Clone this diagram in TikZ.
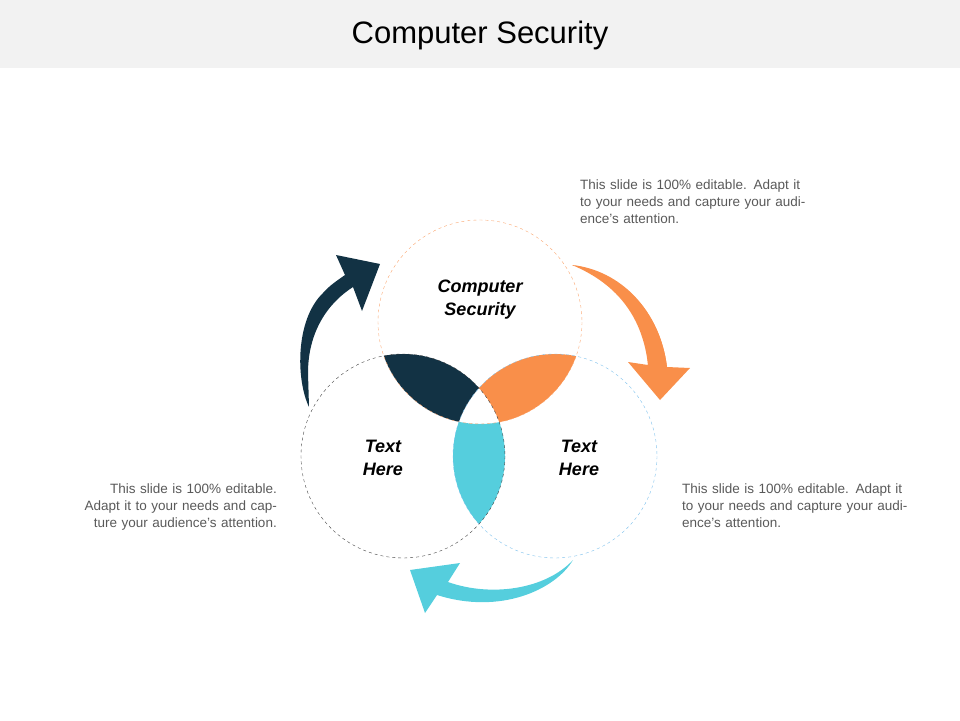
\documentclass[tikz,border=0pt]{standalone}
\usepackage{fontspec}
\setmainfont{Liberation Sans}
\definecolor{navy}{HTML}{123244}
\definecolor{orng}{HTML}{F98F4A}
\definecolor{cyn}{HTML}{55CEDD}
\definecolor{txtgray}{HTML}{595959}
\begin{document}
\begin{tikzpicture}[x=1pt,y=-1pt,
  desc/.style={text=txtgray,font=\fontsize{13.5}{17}\selectfont,align=left,text width=230pt,inner sep=0pt},
  lbl/.style={font=\fontsize{18}{23}\selectfont\bfseries\itshape,align=center}]
\useasboundingbox (0,0) rectangle (960,720);
\fill[gray!10] (0,0) rectangle (960,68);
\node (title) at (480,35) {\fontsize{31}{36}\selectfont Computer Security};
\def\T{(480,322) circle (102)}
\def\L{(403,456) circle (102)}
\def\R{(555,456) circle (102)}
\def\Big{(0,0) rectangle (960,720)}
\begin{scope}\clip \T; \clip \L; \fill[navy,even odd rule] \Big \R; \end{scope}
\begin{scope}\clip \T; \clip \R; \fill[orng,even odd rule] \Big \L; \end{scope}
\begin{scope}\clip \L; \clip \R; \fill[cyn,even odd rule] \Big \T; \end{scope}
\draw[dashed,orng!80] \T;
\draw[dashed,black!75] \L;
\draw[dashed,cyn!80!blue!70] \R;
\node[lbl] (t1) at (480,300) {Computer\\Security};
\node[lbl] (t2) at (383,458) {Text\\Here};
\node[lbl] (t3) at (579,458) {Text\\Here};
% arrows
\fill[navy] (309,407) .. controls (296,380) and (295,320) .. (323,293)
  .. controls (330,285) and (338,280) .. (345,275) -- (336,255) -- (380,264) -- (362,311) -- (353,287)
  .. controls (325,305) and (308,335) .. (308,373) -- cycle;
\fill[orng] (572,265) .. controls (620,270) and (660,310) .. (667,367) -- (690,368) -- (660,400) -- (628,362) -- (648,365)
  .. controls (643,320) and (620,285) .. (572,265) -- cycle;
\fill[orng] (572,265) .. controls (612,272) and (645,305) .. (648,365) -- (667,367) .. controls (660,310) and (620,272) .. (572,265);
\fill[cyn] (573,560) .. controls (555,590) and (500,615) .. (437,595) -- (425,613) -- (410,570) -- (460,563) -- (448,582)
  .. controls (490,597) and (545,590) .. (573,560) -- cycle;
\node[desc,anchor=north west] (d1) at (580,180) {This slide is 100\% editable. Adapt it to your needs and capture your audience's attention.};
\node[desc,anchor=north west] (d2) at (682,484) {This slide is 100\% editable. Adapt it to your needs and capture your audience's attention.};
\node[desc,anchor=north east,align=right] (d3) at (277,484) {This slide is 100\% editable. Adapt it to your needs and capture your audience's attention.};
\end{tikzpicture}
\end{document}
